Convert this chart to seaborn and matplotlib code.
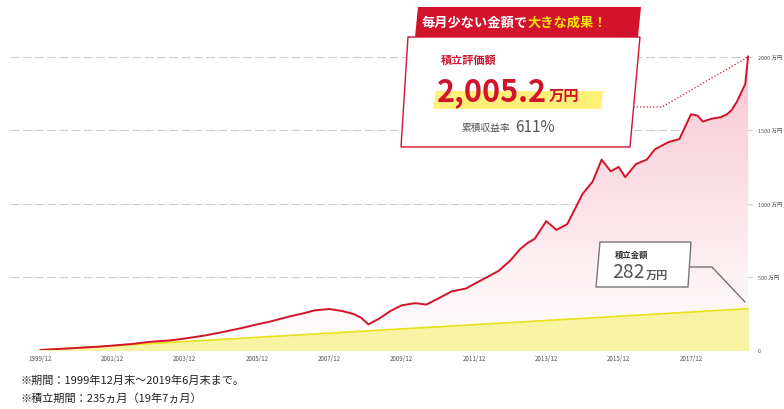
import numpy as np
import matplotlib
matplotlib.use("Agg")
import matplotlib.pyplot as plt
import seaborn as sns
from matplotlib.patches import Polygon
from matplotlib.colors import LinearSegmentedColormap

sns.set_theme(style="white")
plt.rcParams['font.family'] = ['Noto Sans CJK JP', 'DejaVu Sans']

# data (decimal years, 万円)
val_t = [1999.92, 2000.5, 2001.0, 2001.5, 2001.92, 2002.5, 2002.92, 2003.5, 2003.92, 2004.5, 2004.92,
         2005.5, 2005.92, 2006.3, 2006.6, 2006.92, 2007.2, 2007.5, 2007.92, 2008.3, 2008.6, 2008.8,
         2009.0, 2009.3, 2009.6, 2009.92, 2010.3, 2010.6, 2010.92, 2011.3, 2011.7, 2011.92,
         2012.3, 2012.6, 2012.92, 2013.2, 2013.4, 2013.6, 2013.92, 2014.2, 2014.5, 2014.92,
         2015.2, 2015.45, 2015.7, 2015.92, 2016.1, 2016.4, 2016.7, 2016.92, 2017.3, 2017.6,
         2017.92, 2018.1, 2018.25, 2018.5, 2018.75, 2018.92, 2019.05, 2019.2, 2019.35, 2019.42, 2019.5]
val_v = [0, 8, 15, 22, 30, 42, 55, 65, 78, 100, 120,
         150, 175, 195, 215, 235, 250, 270, 280, 265, 245, 220,
         175, 215, 265, 305, 320, 310, 350, 400, 420, 450,
         500, 540, 610, 690, 730, 760, 880, 820, 860, 1065,
         1150, 1300, 1220, 1250, 1180, 1270, 1300, 1370, 1420, 1440,
         1610, 1600, 1560, 1580, 1590, 1610, 1640, 1700, 1780, 1815, 2005]
con_t = [1999.92, 2004.92, 2009.92, 2014.92, 2019.5]
con_v = [0, 72, 144, 216, 282]
xtick_pos = [1999.92 + 2 * i for i in range(10)]
xtick_lab = [f"{1999 + 2 * i}/12" for i in range(10)]
ytick_v = [0, 500, 1000, 1500, 2000]
ytick_lab = ["0", "500 万円", "1000 万円", "1500 万円", "2000 万円"]

W, H = 784, 410
fig = plt.figure(figsize=(W / 100, H / 100), dpi=100)
ax = fig.add_axes([10 / W, 1 - 351 / H, 745 / W, 331 / H])
x0, x1 = 1999.09, 2019.69
ax.set_xlim(x0, x1)
ax.set_ylim(0, 2260)

grad = np.linspace(0, 1, 256).reshape(-1, 1)
cm = LinearSegmentedColormap.from_list("p", ["#ffffff", "#f7c6d0"])
im = ax.imshow(grad, cmap=cm, aspect='auto',
               extent=[val_t[0], val_t[-1], 0, 2005], origin='lower', zorder=1)
poly = Polygon(list(zip(val_t, val_v)) + [(val_t[-1], 0), (val_t[0], 0)], closed=True,
               transform=ax.transData, facecolor='none', edgecolor='none')
ax.add_patch(poly)
im.set_clip_path(poly)

ax.fill_between(con_t, con_v, color="#f7f3a3", zorder=2)
sns.lineplot(x=con_t, y=con_v, ax=ax, color="#e8e21a", lw=1.2, zorder=3)
sns.lineplot(x=val_t, y=val_v, ax=ax, color="#d2132c", lw=1.4, zorder=4)

for v in ytick_v:
    ax.axhline(v, color="#cccccc", lw=0.8, ls=(0, (8, 3)), zorder=0)
for s in ax.spines.values():
    s.set_visible(False)
ax.set_xticks(xtick_pos)
ax.set_xticklabels(xtick_lab, fontsize=4.5, color="#555555")
ax.yaxis.tick_right()
ax.set_yticks(ytick_v)
ax.set_yticklabels(ytick_lab, fontsize=4, color="#555555")
ax.tick_params(axis='y', length=0, pad=2)
ax.tick_params(axis='x', length=0, pad=3)
ax.set_xlabel(""); ax.set_ylabel("")

def P(x, y):
    return (x / W, 1 - y / H)

ft = fig.transFigure
fig.patches.append(Polygon([P(408, 38), P(640, 38), P(630, 148), P(401, 148)], closed=True,
                           transform=ft, facecolor="white", edgecolor="#d2132c", lw=1, zorder=5))
fig.patches.append(Polygon([P(418, 8), P(641, 8), P(638, 38), P(415, 38)], closed=True,
                           transform=ft, facecolor="#d2132c", edgecolor="none", zorder=6))
fig.text(*P(528, 23), "毎月少ない金額で", fontsize=9.5, color="white", weight="bold",
         ha="right", va="center", zorder=7)
fig.text(*P(528, 23), "大きな成果！", fontsize=9.5, color="#ffe600", weight="bold",
         ha="left", va="center", zorder=7)
fig.text(*P(441, 60), "積立評価額", fontsize=8, color="#d2132c", weight="bold", va="center", zorder=7)
fig.patches.append(Polygon([P(436, 92), P(603, 92), P(601, 110), P(433, 110)], closed=True,
                           transform=ft, facecolor="#fff07a", edgecolor="none", zorder=6))
fig.text(*P(437, 92), "2,005.2", fontsize=22, color="#d2132c", weight="bold", va="center", zorder=7)
fig.text(*P(549, 96), "万円", fontsize=11, color="#d2132c", weight="bold", va="center", zorder=7)
fig.text(*P(461, 128), "累積収益率", fontsize=7, color="#555555", va="center", zorder=7)
fig.text(*P(515, 128), "611%", fontsize=11, color="#555555", style="italic", va="center", zorder=7)
fig.lines.append(plt.Line2D([630 / W, 662 / W, 748 / W], [1 - 108 / H, 1 - 108 / H, 1 - 58 / H],
                            transform=ft, color="#d2132c", lw=0.9, ls=":", zorder=5))

fig.patches.append(Polygon([P(600, 243), P(691, 243), P(688, 288), P(596, 288)], closed=True,
                           transform=ft, facecolor="white", edgecolor="#777777", lw=1, zorder=5))
fig.text(*P(615, 255), "積立金額", fontsize=6, color="#333333", weight="bold", va="center", zorder=7)
fig.text(*P(612, 273), "282", fontsize=14, color="#555555", style="italic", va="center", zorder=7)
fig.text(*P(646, 275), "万円", fontsize=8, color="#555555", weight="bold", va="center", zorder=7)
fig.lines.append(plt.Line2D([690 / W, 712 / W, 745 / W], [1 - 268 / H, 1 - 268 / H, 1 - 303 / H],
                            transform=ft, color="#666666", lw=0.9, zorder=5))

fig.text(*P(20, 381), "※期間：1999年12月末～2019年6月末まで。", fontsize=8, color="#222222", va="center")
fig.text(*P(20, 399), "※積立期間：235ヵ月（19年7ヵ月）", fontsize=8, color="#222222", va="center")

fig.savefig("out.png", dpi=100)
